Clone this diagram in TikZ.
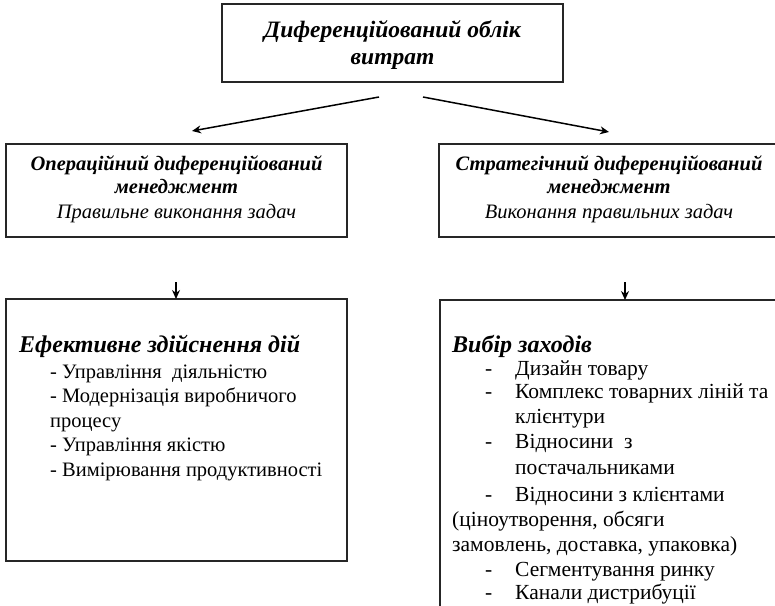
\documentclass[tikz,border=0pt]{standalone}
\usepackage{fontspec}
\setmainfont{Liberation Serif}
\usetikzlibrary{arrows.meta}
\begin{document}
\begin{tikzpicture}[x=1pt,y=-1pt,
  box/.style={draw=black!85, line width=1.3pt, inner sep=0pt, outer sep=0pt, anchor=north west},
  head/.style={font=\fontsize{23.5}{27}\selectfont\bfseries\itshape, anchor=base, inner sep=0pt},
  midhead/.style={font=\fontsize{20.5}{24}\selectfont\bfseries\itshape, anchor=base, inner sep=0pt},
  midsub/.style={font=\fontsize{20.5}{24}\selectfont\itshape, anchor=base, inner sep=0pt},
  listhead/.style={font=\fontsize{24}{28}\selectfont\bfseries\itshape, anchor=base west, inner sep=0pt},
  item/.style={font=\fontsize{20.5}{24}\selectfont, anchor=base west, inner sep=0pt},
  ritem/.style={font=\fontsize{21.5}{25}\selectfont, anchor=base west, inner sep=0pt},
  bigarrow/.style={line width=1.5pt, -{Stealth[length=9pt,width=8pt]}},
  smallarrow/.style={line width=1.3pt, -{Stealth[length=9pt,width=8pt]}}
]
\useasboundingbox (0,0) rectangle (775,605);

% frames
\node[box, minimum width=341, minimum height=78] (top) at (222,4) {};
\node[box, minimum width=341, minimum height=93] (opbox) at (6,144) {};
\node[box, minimum width=341, minimum height=93] (stbox) at (439,144) {};
\node[box, minimum width=341, minimum height=262] (effbox) at (6,299) {};
\node[box, minimum width=360, minimum height=330] (selbox) at (440,300) {};

% title
\node[head] (t1) at (392.5,37) {Диференційований облік};
\node[head] (t2) at (392.5,64) {витрат};

% operational management
\node[midhead] (o1) at (176.5,170) {Операційний диференційований};
\node[midhead] (o2) at (176.5,193) {менеджмент};
\node[midsub]  (o3) at (176.5,218) {Правильне виконання задач};

% strategic management
\node[midhead] (s1) at (609,170) {Стратегічний диференційований};
\node[midhead] (s2) at (609,193) {менеджмент};
\node[midsub]  (s3) at (609,218) {Виконання правильних задач};

% branching arrows
\coordinate (fromL) at (379,97);
\coordinate (toL) at (192,131);
\coordinate (fromR) at (423,97);
\coordinate (toR) at (609,132);
\draw[bigarrow] (fromL) -- (toL);
\draw[bigarrow] (fromR) -- (toR);

% arrows into lower frames
\coordinate (downL) at (176,282);
\coordinate (downR) at (625,282);
\draw[smallarrow] (downL) -- (downL |- effbox.north);
\draw[smallarrow] (downR) -- (downR |- selbox.north);

% effective actions
\node[listhead] (e0) at (19,352) {Ефективне здійснення дій};
\node[item] (e1) at (50,378) {- Управління \ діяльністю};
\node[item] (e2) at (50,402.5) {- Модернізація виробничого};
\node[item] (e3) at (50,427) {процесу};
\node[item] (e4) at (50,451.5) {- Управління якістю};
\node[item] (e5) at (50,476) {- Вимірювання продуктивності};

% choice of measures
\node[listhead] (v0) at (452,352) {Вибір заходів};
\node[ritem] (d1) at (485,375) {-};
\node[ritem] (v1) at (515,375) {Дизайн товару};
\node[ritem] (d2) at (485,398) {-};
\node[ritem] (v2) at (515,398) {Комплекс товарних ліній та};
\node[ritem] (v3) at (515,423) {клієнтури};
\node[ritem] (d4) at (485,448) {-};
\node[ritem] (v4) at (515,448) {Відносини \ з};
\node[ritem] (v5) at (515,474) {постачальниками};
\node[ritem] (d6) at (485,501) {-};
\node[ritem] (v6) at (515,501) {Відносини з клієнтами};
\node[ritem] (v7) at (452,526) {(ціноутворення, обсяги};
\node[ritem] (v8) at (452,551) {замовлень, доставка, упаковка)};
\node[ritem] (d9) at (485,576) {-};
\node[ritem] (v9) at (515,576) {Сегментування ринку};
\node[ritem] (d10) at (485,599) {-};
\node[ritem] (v10) at (515,599) {Канали дистрибуції};
\end{tikzpicture}
\end{document}
